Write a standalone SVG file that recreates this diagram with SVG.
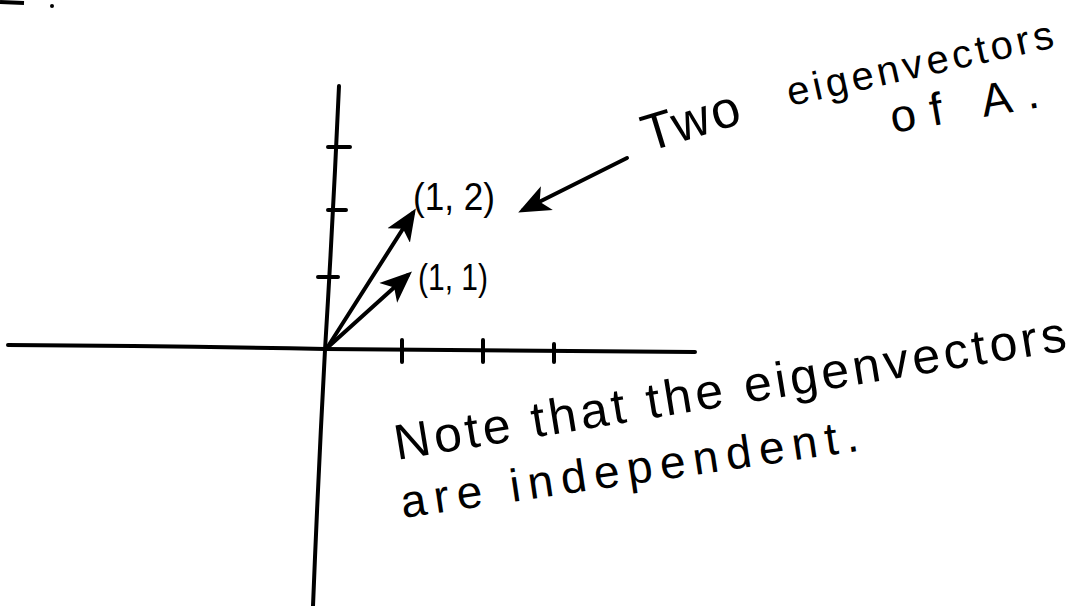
<svg xmlns="http://www.w3.org/2000/svg" width="1082" height="606" viewBox="0 0 1082 606">
<style>
.ink{fill:none;stroke:#000;stroke-width:4;stroke-linecap:round;stroke-linejoin:round}
.tick{fill:none;stroke:#000;stroke-width:4;stroke-linecap:round}
.hand{font-family:"Liberation Sans","DejaVu Sans",sans-serif;fill:#000}
</style>
<defs>
<marker id="head" viewBox="0 0 12 10" refX="10" refY="5" markerWidth="8" markerHeight="7" orient="auto" markerUnits="strokeWidth">
<path d="M0,0 L12,5 L0,10 L3,5 Z" fill="#000"/>
</marker>
</defs>
<rect width="1082" height="606" fill="#fff"/>
<g id="scan-marks">
<path d="M0,2 L24,3" stroke="#000" stroke-width="4"/>
<circle cx="52" cy="6" r="2" fill="#000"/>
</g>
<g id="axes">
<path class="ink" d="M339,86 Q333,220 325,350 Q318,480 313,606"/>
<path class="ink" d="M8,345 Q170,346 325,349 Q510,350 695,352"/>
<path class="tick" d="M328,147 L350,147 M328,210 L346,210 M318,277 L338,277"/>
<path class="tick" d="M402,340 L402,362 M483,340 L483,362 M554,344 L554,362"/>
</g>
<g id="connectors">
<path class="ink" d="M327,348 L413,213" marker-end="url(#head)"/>
<path class="ink" d="M327,348 L408,275" marker-end="url(#head)"/>
<path class="ink" d="M627,158 L523,210" marker-end="url(#head)"/>
</g>
<g id="label-12"><text class="hand" x="413" y="210" font-size="38" textLength="82" lengthAdjust="spacingAndGlyphs">(1, 2)</text></g>
<g id="label-11"><text class="hand" x="418" y="290" font-size="36" textLength="70" lengthAdjust="spacingAndGlyphs">(1, 1)</text></g>
<g id="note-two">
<text class="hand" font-size="52" transform="translate(648,152) rotate(-17)" textLength="100" lengthAdjust="spacing">Two</text>
<text class="hand" font-size="40" transform="translate(790,106) rotate(-12.5)" textLength="272" lengthAdjust="spacing">eigenvectors</text>
<text class="hand" font-size="46" transform="translate(893,133) rotate(-10)" textLength="150" lengthAdjust="spacing">of A.</text>
</g>
<g id="note-independent">
<text class="hand" font-size="50" transform="translate(397,460) rotate(-9.3)" textLength="680" lengthAdjust="spacing">Note that the eigenvectors</text>
<text class="hand" font-size="46" transform="translate(403,518) rotate(-8.4)" textLength="462" lengthAdjust="spacing">are independent.</text>
</g>
</svg>
